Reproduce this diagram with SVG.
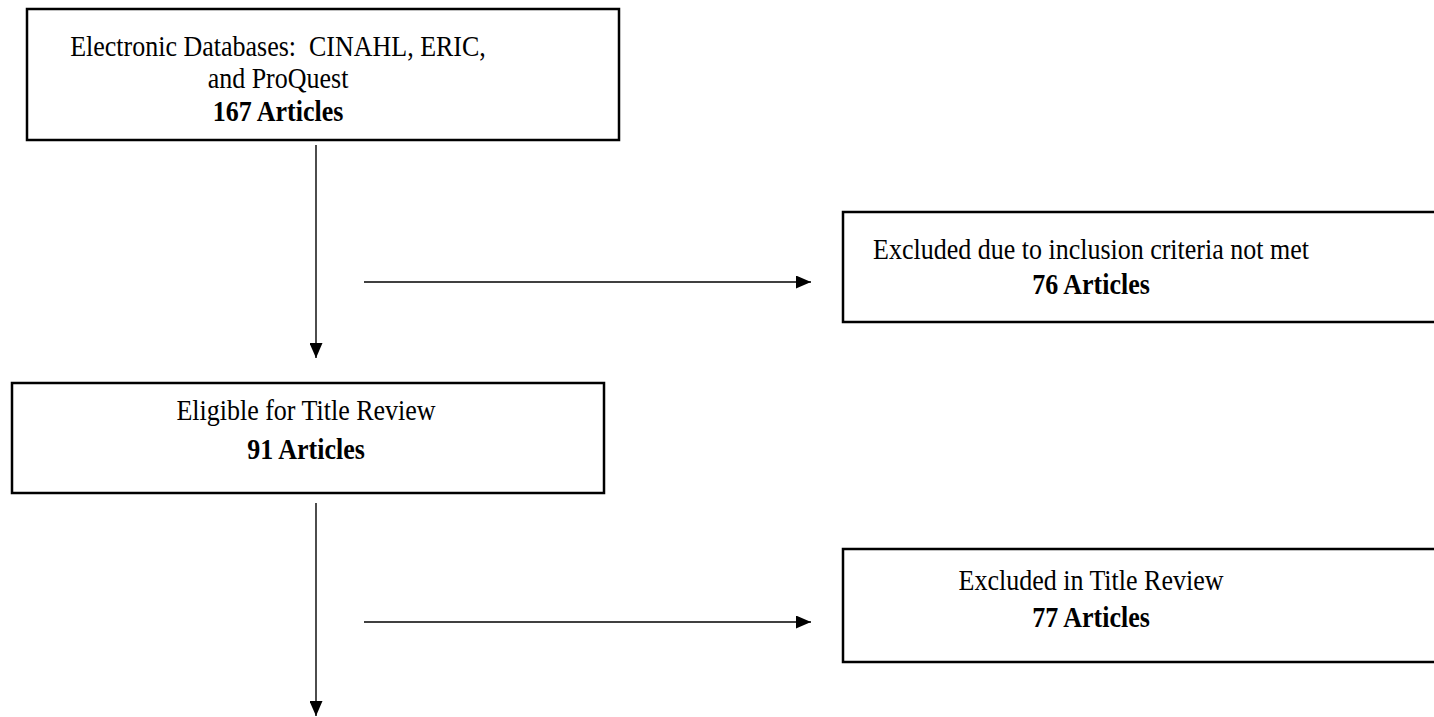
<svg xmlns="http://www.w3.org/2000/svg" width="1434" height="717" viewBox="0 0 1434 717">
<style>
.box{fill:#fff;stroke:#000;stroke-width:2.5}
.t{font-family:"Liberation Serif","Times New Roman",serif;font-size:26px;fill:#000;text-anchor:middle;white-space:pre}
.b{font-weight:bold}
.c{stroke:#000;stroke-width:1.4;fill:none}
</style>
<defs>
<marker id="ah" markerWidth="15" markerHeight="13" refX="15" refY="6.5" orient="auto" markerUnits="userSpaceOnUse">
<path d="M0,0 L15,6.5 L0,13 Z" fill="#000"/>
</marker>
</defs>
<rect width="1434" height="717" fill="#fff"/>
<g id="n1">
<rect class="box" x="27" y="9" width="592" height="131"/>
<text class="t" xml:space="preserve" transform="translate(278,56) scale(1,1.15)">Electronic Databases:  CINAHL, ERIC,</text>
<text class="t" transform="translate(278,88) scale(1,1.15)">and ProQuest</text>
<text class="t b" transform="translate(278,121) scale(1,1.15)">167 Articles</text>
</g>
<g id="n2">
<rect class="box" x="843" y="212" width="600" height="110"/>
<text class="t" transform="translate(1091,259) scale(1,1.15)">Excluded due to inclusion criteria not met</text>
<text class="t b" transform="translate(1091,294) scale(1,1.15)">76 Articles</text>
</g>
<g id="n3">
<rect class="box" x="12" y="383" width="592" height="110"/>
<text class="t" transform="translate(306,420) scale(1,1.15)">Eligible for Title Review</text>
<text class="t b" transform="translate(306,459) scale(1,1.15)">91 Articles</text>
</g>
<g id="n4">
<rect class="box" x="843" y="549" width="600" height="113"/>
<text class="t" transform="translate(1091,590) scale(1,1.15)">Excluded in Title Review</text>
<text class="t b" transform="translate(1091,627) scale(1,1.15)">77 Articles</text>
</g>
<g id="connectors">
<line class="c" x1="316" y1="145" x2="316" y2="358" marker-end="url(#ah)"/>
<line class="c" x1="364" y1="282" x2="811" y2="282" marker-end="url(#ah)"/>
<line class="c" x1="316" y1="503" x2="316" y2="716" marker-end="url(#ah)"/>
<line class="c" x1="364" y1="622" x2="811" y2="622" marker-end="url(#ah)"/>
</g>
</svg>
